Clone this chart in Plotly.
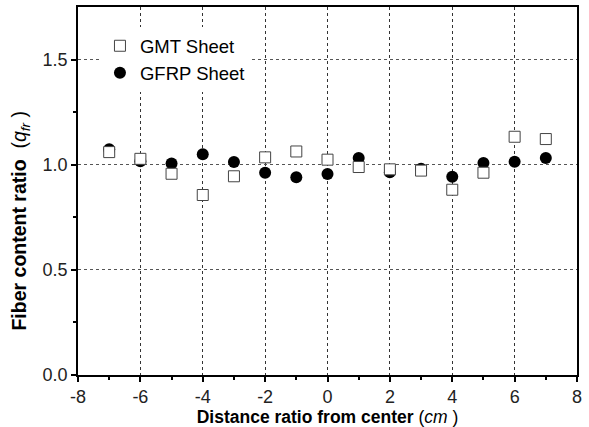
import plotly.graph_objects as go

positions = [-7, -6, -5, -4, -3, -2, -1, 0, 1, 2, 3, 4, 5, 6, 7]
gmt_sheet = [1.06, 1.028, 0.957, 0.856, 0.945, 1.035, 1.063, 1.024, 0.989, 0.978, 0.972, 0.881, 0.962, 1.133, 1.122]
gfrp_sheet = [1.074, 1.016, 1.006, 1.05, 1.013, 0.962, 0.94, 0.956, 1.032, 0.964, 0.981, 0.943, 1.008, 1.014, 1.032]

x_tickvals = [-8, -6, -4, -2, 0, 2, 4, 6, 8]
x_ticktext = ["-8", "-6", "-4", "-2", "0", "2", "4", "6", "8"]
y_tickvals = [0, 0.5, 1.0, 1.5]
y_ticktext = ["0.0", "0.5", "1.0", "1.5"]

FONT = "Liberation Sans, Arial, sans-serif"

fig = go.Figure()
fig.add_trace(go.Scatter(
    x=positions, y=gfrp_sheet, mode="markers", name="GFRP Sheet",
    marker=dict(symbol="circle", size=12, color="black", line=dict(width=0)),
))
fig.add_trace(go.Scatter(
    x=positions, y=gmt_sheet, mode="markers", name="GMT Sheet",
    marker=dict(symbol="square", size=11, color="white", line=dict(color="#444", width=1)),
))

tickfont = dict(family=FONT, size=18, color="#222")
fig.update_layout(
    width=589, height=427,
    margin=dict(l=78, r=12, t=7, b=52),
    plot_bgcolor="white", paper_bgcolor="white",
    showlegend=True,
    legend=dict(
        x=0.044, y=0.945, xanchor="left", yanchor="top",
        traceorder="reversed", bgcolor="white",
        font=dict(family=FONT, size=18.5, color="black"),
        tracegroupgap=0,
    ),
    xaxis=dict(
        range=[-8, 8], tickmode="array", tickvals=x_tickvals, ticktext=x_ticktext,
        showline=True, linecolor="black", linewidth=1.5, mirror=True,
        ticks="outside", ticklen=5, tickcolor="black", tickwidth=1.5,
        showgrid=True, gridcolor="#333", griddash="dot", gridwidth=1,
        zeroline=False, tickfont=tickfont, automargin=False,
        minor=dict(ticks="outside", ticklen=3, dtick=1, tick0=-8, tickcolor="black", showgrid=False),
        title=dict(text="<b>Distance ratio from center</b> (<i>cm</i> )",
                   font=dict(family=FONT, size=17.5, color="black"),
                   standoff=0),
    ),
    yaxis=dict(
        range=[0, 1.75], tickmode="array", tickvals=y_tickvals, ticktext=y_ticktext,
        showline=True, linecolor="black", linewidth=1.5, mirror=True,
        ticks="outside", ticklen=5, tickcolor="black", tickwidth=1.5,
        showgrid=True, gridcolor="#555", griddash="dot", gridwidth=1,
        zeroline=False, tickfont=tickfont, automargin=False,
        minor=dict(ticks="outside", ticklen=3, tickvals=[0.25, 0.75, 1.25], tickcolor="black", showgrid=False),
    ),
    annotations=[dict(
        text="<b>Fiber content ratio</b>  (<i>q</i><sub><i>fr</i></sub> )",
        textangle=-90, xref="paper", yref="paper",
        x=-0.116, y=0.42, xanchor="center", yanchor="middle",
        showarrow=False,
        font=dict(family=FONT, size=19.5, color="black"),
    )],
)

fig.write_html("out.html", config={"displayModeBar": False},
               post_script="document.body.style.margin='0';")
